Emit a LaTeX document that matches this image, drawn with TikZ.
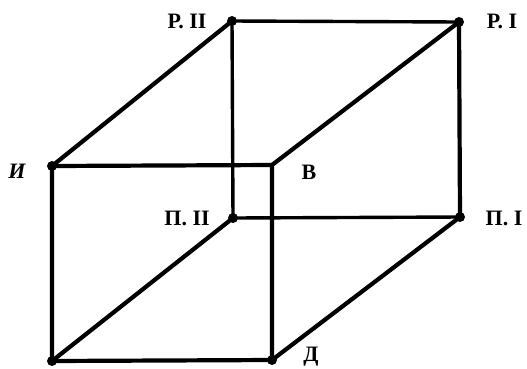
\documentclass[tikz,border=0pt]{standalone}
\usepackage{fontspec}
\setmainfont{Liberation Serif}
\begin{document}
\begin{tikzpicture}[x=1pt,y=-1pt,
  edge/.style={line width=4.2pt,line cap=round,line join=round},
  inner/.style={line width=3.4pt,line cap=round},
  vert/.style={circle,fill=black,inner sep=0pt,minimum size=10pt},
  corner/.style={inner sep=0pt,minimum size=0pt},
  lab/.style={font=\fontsize{22}{22}\selectfont\bfseries,inner sep=0pt}]
\useasboundingbox (0,0) rectangle (527,368);
% vertices
\node[vert] (r2) at (232,21) {};
\node[vert] (r1) at (459,22) {};
\node[vert] (i) at (52,166) {};
\node[corner] (b) at (272,165) {};
\node[vert] (p2) at (233,218) {};
\node[vert] (p1) at (460,217) {};
\node[vert] (bl) at (52,361) {};
\node[vert] (d) at (272,360) {};
% edges
\draw[inner] (r2.center) -- (p2.center);
\draw[inner] (p2.center) -- (p1.center);
\draw[edge] (p2.center) -- (bl.center);
\draw[inner] (r2.center) -- (r1.center);
\draw[edge] (r1.center) -- (p1.center);
\draw[edge] (i.center) -- (r2.center);
\draw[edge] (b.center) -- (r1.center);
\draw[edge] (d.center) -- (p1.center);
\draw[edge] (i.center) -- (b.center) -- (d.center) -- (bl.center) -- cycle;
% labels
\node[lab] (lr2) at (187,21) {Р. II};
\node[lab] (lr1) at (502,21) {Р. I};
\node[lab] (li) at (17,171) {\itshape И};
\node[lab] (lb) at (309,172) {В};
\node[lab] (lp2) at (187,218) {П. II};
\node[lab] (lp1) at (504,218) {П. I};
\node[lab] (ld) at (311,357) {Д};
\end{tikzpicture}
\end{document}
